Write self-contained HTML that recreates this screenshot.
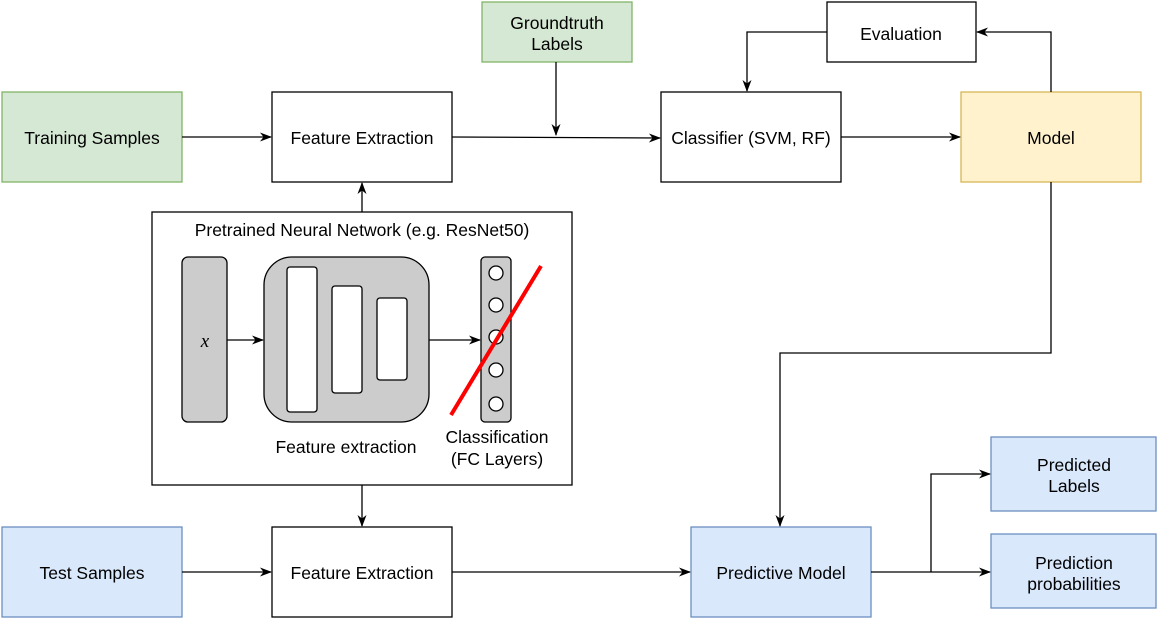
<!DOCTYPE html>
<html><head><style>body{margin:0;background:#fff}</style></head><body>
<svg width="1159" height="619" xmlns="http://www.w3.org/2000/svg" font-family="Liberation Sans, Arial, sans-serif" font-size="17.5">
<defs><marker id="a" markerWidth="12" markerHeight="12" refX="11" refY="6" orient="auto" markerUnits="userSpaceOnUse"><path d="M0,1.5 L12,6 L0,10.5 L3.5,6 Z" fill="#000"/></marker></defs>
<g stroke="#000" stroke-width="1.3" fill="none">
<rect x="2" y="92" width="180" height="90" fill="#d5e8d4" stroke="#82b366"/>
<rect x="272" y="92" width="180" height="90" fill="#fff"/>
<rect x="482" y="2" width="150" height="60" fill="#d5e8d4" stroke="#82b366"/>
<rect x="661" y="92" width="180" height="90" fill="#fff"/>
<rect x="827" y="2" width="149" height="60" fill="#fff"/>
<rect x="961" y="92" width="180" height="90" fill="#fff2cc" stroke="#d6b656"/>
<rect x="152" y="212" width="420" height="273" fill="#fff"/>
<rect x="2" y="527" width="180" height="90" fill="#dae8fc" stroke="#6c8ebf"/>
<rect x="272" y="527" width="180" height="90" fill="#fff"/>
<rect x="691" y="527" width="180" height="90" fill="#dae8fc" stroke="#6c8ebf"/>
<rect x="991" y="437" width="165" height="74" fill="#dae8fc" stroke="#6c8ebf"/>
<rect x="991" y="534" width="165" height="74" fill="#dae8fc" stroke="#6c8ebf"/>
<rect x="182" y="257" width="45" height="165" rx="6" fill="#ccc"/>
<rect x="264" y="257" width="165" height="165" rx="28" fill="#ccc"/>
<rect x="287" y="267" width="30" height="145" rx="3" fill="#fff"/>
<rect x="332" y="286" width="30" height="107" rx="3" fill="#fff"/>
<rect x="377" y="298" width="30" height="82" rx="3" fill="#fff"/>
<rect x="481" y="257" width="30" height="165" rx="4" fill="#ccc"/>
<g fill="#fff"><circle cx="496" cy="273" r="7"/><circle cx="496" cy="305" r="7"/><circle cx="496" cy="337" r="7"/><circle cx="496" cy="370" r="7"/><circle cx="496" cy="404" r="7"/></g>
<line x1="451" y1="415" x2="541" y2="266" stroke="#f00" stroke-width="4"/>
<g marker-end="url(#a)">
<path d="M227,340 H263"/><path d="M429,340 H480"/>
<path d="M182,137 H271"/>
<path d="M452,137 L660,138"/>
<path d="M556,62 V135"/>
<path d="M841,137 H960"/>
<path d="M1051,92 V32 H977"/>
<path d="M827,32 H747 V91"/>
<path d="M362,212 V183"/>
<path d="M362,485 V526"/>
<path d="M182,572 H271"/>
<path d="M452,572 H690"/>
<path d="M1051,182 V353 H780 V526"/>
<path d="M871,572 H990"/>
<path d="M931,572 V474 H990"/>
</g></g>
<g fill="#000" text-anchor="middle">
<text x="92" y="144">Training Samples</text>
<text x="362" y="144">Feature Extraction</text>
<text x="557" y="29">Groundtruth</text><text x="557" y="50">Labels</text>
<text x="751" y="144">Classifier (SVM, RF)</text>
<text x="901" y="40">Evaluation</text>
<text x="1051" y="144">Model</text>
<text x="362" y="236">Pretrained Neural Network (e.g. ResNet50)</text>
<text x="205" y="347" font-family="Liberation Serif, serif" font-style="italic" font-size="19">x</text>
<text x="346" y="453">Feature extraction</text>
<text x="497" y="443">Classification</text><text x="497" y="465">(FC Layers)</text>
<text x="92" y="579">Test Samples</text>
<text x="362" y="579">Feature Extraction</text>
<text x="781" y="579">Predictive Model</text>
<text x="1074" y="471">Predicted</text><text x="1074" y="492">Labels</text>
<text x="1074" y="569">Prediction</text><text x="1074" y="590">probabilities</text>
</g>
</svg>
</body></html>
